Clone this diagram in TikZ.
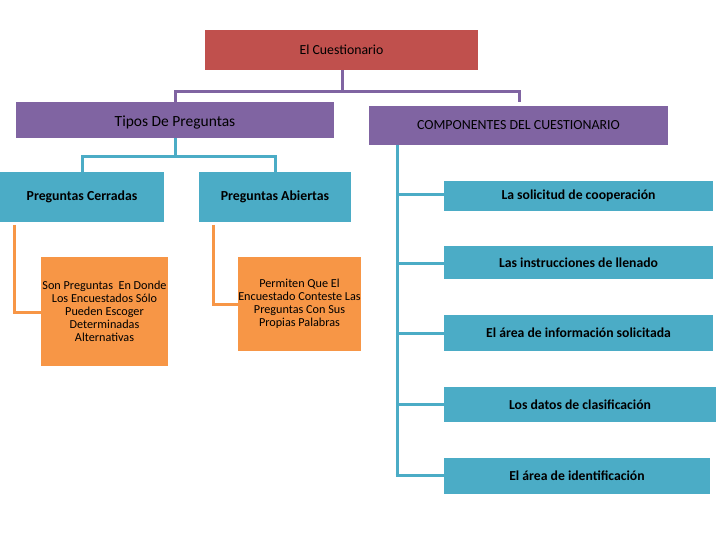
\documentclass[tikz,border=0pt]{standalone}
\usepackage{fontspec}
\setmainfont{Carlito}
\definecolor{cred}{HTML}{C0504D}
\definecolor{cpurple}{HTML}{8064A2}
\definecolor{cteal}{HTML}{4BACC6}
\definecolor{corange}{HTML}{F79646}
\begin{document}
\begin{tikzpicture}[x=1pt,y=-1pt,
  box/.style={anchor=north west,inner sep=0pt,outer sep=0pt,align=center},
  lk/.style={line width=3pt},
  hd/.style={font=\bfseries\fontsize{13.8}{16}\selectfont},
  cp/.style={font=\bfseries\fontsize{13.7}{16}\selectfont},
  ob/.style={font=\fontsize{12.2}{13}\selectfont}]
\useasboundingbox[fill=white] (0,0) rectangle (720,540);
% boxes
\node[box,fill=cred,minimum width=273pt,minimum height=40pt,font=\fontsize{13.8}{16}\selectfont] (root) at (205,30) {El Cuestionario};
\node[box,fill=cpurple,minimum width=318pt,minimum height=36pt] (tipos) at (16,102) {};
\node[font=\fontsize{15.5}{18}\selectfont,inner sep=0pt] (tiposl) at (175,123) {Tipos De Preguntas};
\node[box,fill=cpurple,minimum width=299pt,minimum height=39pt,font=\fontsize{13.9}{16}\selectfont] (comp) at (369,106) {COMPONENTES DEL CUESTIONARIO};
\node[box,fill=cteal,minimum width=164pt,minimum height=50pt,hd] (cerr) at (0,172) {Preguntas Cerradas};
\node[box,fill=cteal,minimum width=152pt,minimum height=50pt,hd] (abie) at (199,172) {Preguntas Abiertas};
\node[box,fill=corange,minimum width=127pt,minimum height=109pt,ob] (o1) at (41,257) {Son Preguntas\ \ En Donde\\Los Encuestados Sólo\\Pueden Escoger\\Determinadas\\Alternativas};
\node[box,fill=corange,minimum width=123pt,minimum height=94pt,ob] (o2) at (238,257) {Permiten Que El\\Encuestado Conteste Las\\Preguntas Con Sus\\Propias Palabras};
\node[box,fill=cteal,minimum width=269pt,minimum height=30pt,cp] (c1) at (444,181) {La solicitud de cooperación};
\node[box,fill=cteal,minimum width=269pt,minimum height=33pt,cp] (c2) at (444,246) {Las instrucciones de llenado};
\node[box,fill=cteal,minimum width=269pt,minimum height=36pt,cp] (c3) at (444,315) {El área de información solicitada};
\node[box,fill=cteal,minimum width=272pt,minimum height=35pt,cp] (c4) at (444,387) {Los datos de clasificación};
\node[box,fill=cteal,minimum width=266pt,minimum height=36pt,cp] (c5) at (444,458) {El área de identificación};
% connectors
\coordinate (rj) at (342,92);
\draw[lk,cpurple] (root.south -| rj) -- (rj);
\draw[lk,cpurple] (175,102) |- (519,92) -- (519,102);
\coordinate (tj) at (175,157);
\draw[lk,cteal] (tipos.south -| tj) -- (tj);
\draw[lk,cteal] (82,173) |- (275,157) -- (275,173);
\draw[lk,corange] (14,225) |- (o1.west |- 0,312);
\draw[lk,corange] (213,225) |- (o2.west |- 0,304);
\coordinate (cv) at (397,145);
\draw[lk,cteal] (cv) -- (397,475);
\draw[lk,cteal] (396,195) -- (c1.west |- 0,195);
\draw[lk,cteal] (396,263) -- (c2.west |- 0,263);
\draw[lk,cteal] (396,333) -- (c3.west |- 0,333);
\draw[lk,cteal] (396,404) -- (c4.west |- 0,404);
\draw[lk,cteal] (395.5,475) -- (c5.west |- 0,475);
\end{tikzpicture}
\end{document}
